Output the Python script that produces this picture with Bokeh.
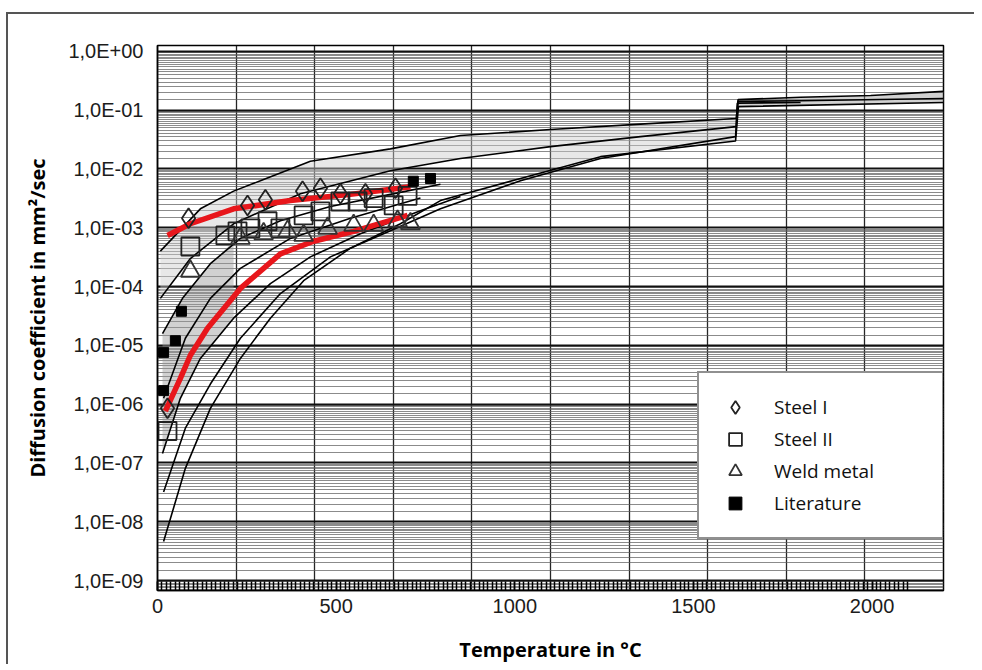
from bokeh.plotting import figure
from bokeh.models import (FixedTicker, CustomJSTickFormatter, Legend, LegendItem,
                          Range1d)
from bokeh.embed import file_html
from bokeh.resources import INLINE
import numpy as np

# ---------------- data ----------------
y_tick_exps = [0, -1, -2, -3, -4, -5, -6, -7, -8, -9]
y_tick_labels = ["1,0E+00", "1,0E-01", "1,0E-02", "1,0E-03", "1,0E-04",
                 "1,0E-05", "1,0E-06", "1,0E-07", "1,0E-08", "1,0E-09"]
x_ticks = [0, 500, 1000, 1500, 2000]

# black literature curves: temperature (°C) and D (mm²/s)
u1_T = [8, 120, 213, 288, 428, 652, 848, 1100, 1352, 1620, 1625, 1800, 1996, 2200]
u1_D = [4.0e-4, 2.1e-3, 4.2e-3, 6.3e-3, 1.35e-2, 2.2e-2, 3.7e-2, 4.7e-2, 5.8e-2, 7.2e-2,
        0.151, 0.166, 0.178, 0.209]
u2_T = [8, 92, 213, 400, 652, 848, 1100, 1352, 1620, 1625, 1800, 2200]
u2_D = [6.3e-5, 3.0e-4, 1.17e-3, 3.8e-3, 9.3e-3, 1.51e-2, 2.4e-2, 3.55e-2, 5.25e-2,
        0.141, 0.145, 0.158]
l1_T = [17, 78, 148, 232, 316, 409, 540, 680, 792, 1016, 1240, 1618, 1626, 2200]
l1_D = [4.6e-9, 8.1e-8, 8.5e-7, 6.0e-6, 2.9e-5, 1.26e-4, 4.5e-4, 1.17e-3, 2.9e-3, 6.9e-3,
        1.62e-2, 3.0e-2, 0.115, 0.135]
l2_T = [17, 78, 148, 232, 344, 484, 652, 792, 1016, 1240, 1618, 1623, 1800]
l2_D = [3.2e-8, 3.9e-7, 2.2e-6, 1.32e-5, 7.6e-5, 3.2e-4, 8.9e-4, 2.1e-3, 6.3e-3, 1.51e-2,
        3.55e-2, 0.132, 0.135]
l3_T = [14, 64, 120, 213, 316, 428, 568, 736, 848]
l3_D = [1.45e-7, 1.26e-6, 6.0e-6, 2.9e-5, 1.12e-4, 3.2e-4, 7.9e-4, 1.95e-3, 3.4e-3]
m1_T = [14, 70, 148, 232, 344, 484, 652, 792]
m1_D = [1.58e-5, 6.3e-5, 2.45e-4, 6.6e-4, 1.32e-3, 2.3e-3, 3.7e-3, 5.5e-3]
m2_T = [17, 78, 148, 232, 372, 540, 736]
m2_D = [1.26e-6, 1.32e-5, 6.3e-5, 2.04e-4, 6.6e-4, 1.45e-3, 3.2e-3]

# red bounding curves
red_up_T = [28, 92, 213, 372, 540, 708]
red_up_D = [7.4e-4, 1.17e-3, 2.1e-3, 2.9e-3, 3.7e-3, 5.0e-3]
red_lo_T = [22, 64, 92, 140, 232, 344, 437, 549, 700]
red_lo_D = [7.6e-7, 2.75e-6, 6.8e-6, 1.95e-5, 9.3e-5, 3.6e-4, 5.9e-4, 8.7e-4, 1.62e-3]

# shaded scatter bands
band1_T = [8, 120, 213, 400, 652, 848, 1100]
band1_top = [4.0e-4, 2.1e-3, 4.2e-3, 1.2e-2, 2.2e-2, 3.7e-2, 4.7e-2]
band1_bot = [6.3e-5, 4.2e-4, 1.17e-3, 3.8e-3, 9.3e-3, 1.51e-2, 2.4e-2]
band2_T = [1100, 1240, 1352, 1618]
band2_top = [4.7e-2, 5.3e-2, 5.8e-2, 7.2e-2]
band2_bot = [1.0e-2, 1.62e-2, 2.1e-2, 3.0e-2]
band3_T = [1625, 1800, 2000, 2200]
band3_top = [0.151, 0.166, 0.178, 0.209]
band3_bot = [0.115, 0.12, 0.128, 0.135]
band4_T = [14, 64, 120, 213]
band4_top = [1.6e-5, 5.5e-5, 1.6e-4, 6.0e-4]
band4_bot = [1.45e-7, 1.26e-6, 6.0e-6, 2.9e-5]

# measured points
steel1_T = [28, 87, 252, 302, 406, 456, 512, 582, 666]
steel1_D = [8.5e-7, 1.45e-3, 2.4e-3, 3.0e-3, 4.2e-3, 4.7e-3, 3.8e-3, 3.8e-3, 4.7e-3]
steel2_T = [28, 92, 190, 224, 260, 308, 344, 409, 456, 512, 560, 605, 661, 700]
steel2_D = [3.5e-7, 4.8e-4, 7.4e-4, 8.7e-4, 9.8e-4, 1.29e-3, 9.8e-4, 1.62e-3, 1.9e-3,
            2.8e-3, 2.8e-3, 3.2e-3, 2.4e-3, 3.5e-3]
weld_T = [92, 232, 297, 364, 409, 476, 549, 605, 672, 708]
weld_D = [1.82e-4, 6.6e-4, 7.9e-4, 8.7e-4, 7.4e-4, 9.8e-4, 1.1e-3, 1.1e-3, 1.29e-3, 1.17e-3]
lit_T = [17, 17, 50, 67, 716, 764]
lit_D = [7.6e-6, 1.7e-6, 1.2e-5, 3.8e-5, 6.2e-3, 6.9e-3]

# ---------------- figure ----------------
W, H = 968, 652
p = figure(width=W, height=H, y_axis_type="log",
           x_range=Range1d(0, 2200), y_range=Range1d(10 ** -9.169, 10 ** 0.1),
           output_backend="svg", toolbar_location=None,
           min_border_left=149, min_border_right=33, min_border_top=31,
           min_border_bottom=76)
p.styles = {"border-top": "2px solid #555", "border-left": "2px solid #555",
            "margin-top": "12px", "margin-left": "6px"}
p.background_fill_color = "white"
p.border_fill_color = "white"
p.outline_line_color = "black"
p.outline_line_width = 1.5

# grids
vgrid = [220 * i for i in range(11)]
decades = [10.0 ** e for e in range(-10, 1)]
minors = [m * 10.0 ** e for e in range(-10, 1) for m in np.arange(1.5, 10.0, 0.5)]
p.xgrid.ticker = FixedTicker(ticks=vgrid)
p.xgrid.grid_line_color = "black"
p.xgrid.grid_line_width = 1.3
p.xgrid.grid_line_alpha = 0.85
p.ygrid.ticker = FixedTicker(ticks=decades, minor_ticks=minors)
p.ygrid.grid_line_color = "#111111"
p.ygrid.grid_line_width = 2
p.ygrid.minor_grid_line_color = "#5a5a5a"
p.ygrid.minor_grid_line_alpha = 0.7
p.ygrid.minor_grid_line_width = 1.2
p.ygrid.level = "underlay"
p.xgrid.level = "underlay"

# axes
hatch = list(np.arange(0, 2112, 12.5))
p.xaxis.ticker = FixedTicker(ticks=x_ticks, minor_ticks=hatch)
p.xaxis.major_tick_in = 9
p.xaxis.major_tick_out = 0
p.xaxis.minor_tick_in = 9
p.xaxis.minor_tick_out = 0
p.xaxis.major_tick_line_width = 1.5
p.xaxis.minor_tick_line_width = 1.5
p.xaxis.major_tick_line_color = "black"
p.xaxis.minor_tick_line_color = "black"
p.xaxis.major_label_standoff = 8
p.xaxis.axis_label = "Temperature in °C"
p.xaxis.axis_label_standoff = 20

p.yaxis.ticker = FixedTicker(ticks=[10.0 ** e for e in y_tick_exps])
p.yaxis.formatter = CustomJSTickFormatter(
    args=dict(exps=y_tick_exps, labels=y_tick_labels),
    code="const e = Math.round(Math.log10(tick)); const i = exps.indexOf(e); return i >= 0 ? labels[i] : '';")
p.yaxis.major_tick_in = 0
p.yaxis.major_tick_out = 0
p.yaxis.minor_tick_in = 0
p.yaxis.minor_tick_out = 0
p.yaxis.major_label_standoff = 14
p.yaxis.axis_label = "Diffusion coefficient in mm²/sec"
p.yaxis.axis_label_standoff = 14

for ax in (p.xaxis, p.yaxis):
    ax.axis_line_color = "black"
    ax.axis_line_width = 1.5
    ax.major_label_text_font = "Liberation Sans"
    ax.major_label_text_font_size = "20px"
    ax.major_label_text_color = "#1c1c1c"
    ax.axis_label_text_font = "Open Sans"
    ax.axis_label_text_font_style = "bold"
    ax.axis_label_text_font_size = "20px"
    ax.axis_label_text_color = "black"

# shaded bands
for bt, top, bot, col in [(band1_T, band1_top, band1_bot, "#cccccc"),
                          (band2_T, band2_top, band2_bot, "#cccccc"),
                          (band3_T, band3_top, band3_bot, "#9a9a9a"),
                          (band4_T, band4_top, band4_bot, "#9a9a9a")]:
    p.varea(x=bt, y1=bot, y2=top, fill_color=col, fill_alpha=0.45)

# black curves
for ct, cd in [(u1_T, u1_D), (u2_T, u2_D), (l1_T, l1_D), (l2_T, l2_D),
               (l3_T, l3_D), (m1_T, m1_D), (m2_T, m2_D)]:
    p.line(ct, cd, line_color="black", line_width=1.6)

# red curves
p.line(red_up_T, red_up_D, line_color="#e8161b", line_width=5.5)
p.line(red_lo_T, red_lo_D, line_color="#e8161b", line_width=5.5)

# markers
r_s1 = p.scatter(steel1_T, steel1_D, marker="diamond", size=20,
                 fill_alpha=0, line_color="#222222", line_width=1.8)
r_s2 = p.scatter(steel2_T, steel2_D, marker="square", size=18,
                 fill_alpha=0, line_color="#222222", line_width=1.8)
r_w = p.scatter(weld_T, weld_D, marker="triangle", size=19,
                fill_alpha=0, line_color="#333333", line_width=1.8)
r_l = p.scatter(lit_T, lit_D, marker="square", size=10,
                fill_color="black", line_color="black")

legend = Legend(items=[LegendItem(label="Steel I", renderers=[r_s1]),
                       LegendItem(label="Steel II", renderers=[r_s2]),
                       LegendItem(label="Weld metal", renderers=[r_w]),
                       LegendItem(label="Literature", renderers=[r_l])],
                location=(540, 51), margin=0, padding=18, spacing=0,
                glyph_width=36, glyph_height=32, label_height=32,
                label_standoff=21, label_width=150,
                label_text_font="Open Sans", label_text_font_size="19px",
                label_text_color="#111111",
                border_line_color="#222222", border_line_width=2,
                background_fill_color="white", background_fill_alpha=1)
p.add_layout(legend)

open("out.html", "w").write(file_html(p, INLINE))
